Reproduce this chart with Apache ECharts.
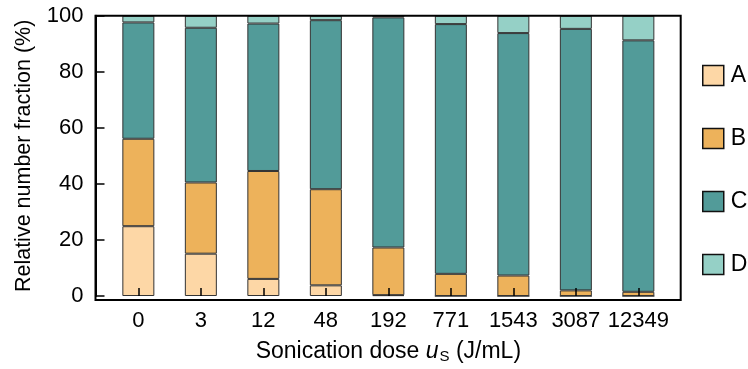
<!DOCTYPE html>
<html>
<head>
<meta charset="utf-8">
<script src="https://cdn.jsdelivr.net/npm/echarts@6/dist/echarts.min.js"></script>
<style>
html,body{margin:0;padding:0;background:#fff;}
#chart{width:748px;height:369px;}
</style>
</head>
<body>
<div id="chart"></div>
<script>
var categories = ['0', '3', '12', '48', '192', '771', '1543', '3087', '12349'];
var seriesNames = ['A', 'B', 'C', 'D'];
var valuesA = [24.9, 15.1, 6.1, 3.8, 0.3, 0, 0, 0, 0];
var valuesB = [31.2, 25.4, 38.5, 34.3, 17.0, 7.9, 7.3, 2.0, 1.5];
var valuesC = [41.5, 55.2, 52.6, 60.3, 82.1, 89.1, 86.5, 93.3, 89.7];
var valuesD = [2.4, 4.3, 2.8, 1.6, 0.6, 3.0, 6.2, 4.7, 8.8];

var colors = ['#FDD7A6', '#EDB25B', '#529B99', '#95D0C6'];
var FONT = 'Liberation Sans, Arial, Helvetica, sans-serif';

var chart = echarts.init(document.getElementById('chart'), null, {renderer: 'canvas'});
var allVals = [valuesA, valuesB, valuesC, valuesD];

chart.setOption({
  animation: false,
  backgroundColor: '#fff',
  textStyle: {fontFamily: FONT, color: '#000'},
  grid: [
    {left: 95.5, right: 67.3, top: 15.7, bottom: 69, show: true, borderColor: '#000', borderWidth: 2, backgroundColor: 'transparent', z: 5},
    {left: 107.1, right: 78.4, top: 15.7, bottom: 69}
  ],
  legend: {
    orient: 'vertical', left: 697, top: 59, itemWidth: 21, itemHeight: 20, itemGap: 40,
    icon: 'rect',
    data: seriesNames,
    textStyle: {fontSize: 23, color: '#000', fontFamily: FONT, padding: [0, 0, 0, 2]},
    itemStyle: {borderColor: '#111', borderWidth: 1.5}
  },
  xAxis: [
    {gridIndex: 0, type: 'value', min: 0, max: 1, show: false},
    {
      gridIndex: 1, type: 'category', data: categories, z: 6,
      axisLine: {show: false},
      axisTick: {show: true, inside: true, alignWithLabel: true, length: 8, lineStyle: {color: '#000', width: 1.5}},
      axisLabel: {margin: 14, fontSize: 22, color: '#000', fontFamily: FONT, interval: 0},
      name: '{n|Sonication dose }{i|u}{s|S}{n| (J/mL)}',
      nameLocation: 'middle', nameGap: 44,
      nameTextStyle: {
        rich: {
          n: {fontSize: 23, fontFamily: FONT, color: '#000'},
          i: {fontSize: 23, fontFamily: FONT, fontStyle: 'italic', color: '#000'},
          s: {fontSize: 15, fontFamily: FONT, color: '#000', padding: [9, 0, 0, 1]}
        }
      }
    }
  ],
  yAxis: [
    {gridIndex: 0, type: 'value', min: 0, max: 1, show: false},
    {
      gridIndex: 1, type: 'value', min: 0, max: 100, interval: 20, offset: 11.6, z: 6,
      splitLine: {show: false},
      axisLine: {show: true, onZero: false, lineStyle: {color: '#000', width: 2}},
      axisTick: {show: true, inside: true, length: 9, lineStyle: {color: '#000', width: 1.5}},
      axisLabel: {margin: 12, fontSize: 22, color: '#000', fontFamily: FONT},
      name: 'Relative number fraction (%)',
      nameLocation: 'middle', nameGap: 60,
      nameTextStyle: {fontSize: 21.5, color: '#000', fontFamily: FONT}
    }
  ],
  series: seriesNames.map(function (n, k) {
    return {
      name: n, type: 'bar', stack: 'total', barWidth: 32,
      xAxisIndex: 1, yAxisIndex: 1,
      data: allVals[k],
      itemStyle: {color: colors[k], borderColor: '#333', borderWidth: 1}
    };
  })
});
</script>
</body>
</html>
